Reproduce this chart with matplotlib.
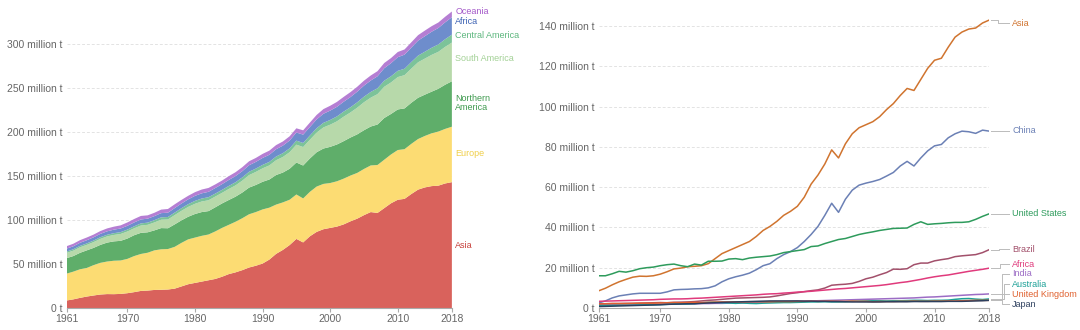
import numpy as np
import matplotlib
matplotlib.use('Agg')
from matplotlib import pyplot as plt

plt.rcParams['font.family'] = ['Liberation Sans', 'DejaVu Sans']

years = np.arange(1961, 2019)

# million tonnes
asia = [8.5, 9.8, 11.5, 13.0, 14.2, 15.3, 15.8, 15.7, 16.0, 16.8,
        18.0, 19.4, 19.8, 20.5, 20.7, 21.0, 22.0, 24.5, 27.0, 28.5,
        30.0, 31.5, 33.0, 35.5, 38.5, 40.5, 43.0, 46.0, 48.0, 50.5,
        55.0, 61.5, 66.0, 71.5, 78.5, 74.5, 81.5, 86.5, 89.5, 91.0,
        92.5, 95.0, 98.5, 101.5, 105.5, 109.0, 108.0, 113.5, 119.0, 123.0,
        124.0, 129.5, 134.5, 137.0, 138.5, 139.0, 141.5, 143.0]
europe = [30.5, 31.5, 32.5, 32.5, 34.5, 36.0, 37.0, 38.0, 38.0, 39.0,
          41.0, 42.0, 43.0, 45.0, 46.0, 46.0, 47.5, 49.5, 51.0, 51.5,
          52.0, 52.0, 54.0, 55.5, 56.0, 57.5, 59.0, 60.5, 61.0, 61.5,
          59.0, 56.0, 54.0, 51.5, 50.5, 50.0, 50.5, 51.5, 51.5, 51.0,
          51.5, 52.0, 52.0, 52.0, 52.5, 53.0, 54.5, 55.0, 55.5, 56.5,
          56.5, 57.0, 57.5, 58.5, 60.0, 61.5, 62.0, 63.0]
north_america = [17.6, 17.7, 18.7, 20.0, 19.6, 20.4, 21.5, 22.0, 22.3, 23.1,
                 23.7, 24.0, 23.2, 22.7, 24.1, 23.6, 25.5, 25.6, 25.7, 26.8,
                 27.0, 26.6, 27.4, 27.8, 28.2, 28.5, 29.2, 30.3, 30.8, 31.4,
                 32.0, 33.6, 33.9, 35.2, 36.3, 37.4, 37.9, 39.0, 40.2, 41.1,
                 41.8, 42.6, 43.2, 43.8, 44.0, 44.2, 46.0, 47.4, 46.0, 46.1,
                 46.3, 46.7, 46.9, 46.9, 47.3, 48.6, 50.2, 51.6]
south_america = [6.0, 6.1, 6.3, 6.2, 6.5, 6.8, 7.0, 7.3, 7.8, 8.0,
                 7.8, 8.3, 8.5, 9.0, 9.5, 10.0, 10.5, 10.8, 11.2, 11.6,
                 12.0, 12.3, 12.2, 12.0, 12.5, 12.8, 13.5, 14.2, 14.8, 15.3,
                 16.0, 16.8, 17.7, 18.8, 20.3, 21.0, 21.3, 22.3, 24.0, 25.2,
                 26.3, 27.8, 28.5, 30.3, 31.8, 32.8, 34.5, 35.5, 35.8, 36.8,
                 37.8, 38.8, 40.3, 41.0, 41.8, 42.0, 43.0, 44.0]
central_america = [1.5, 1.6, 1.6, 1.7, 1.8, 1.9, 1.9, 2.0, 2.1, 2.2,
                   2.3, 2.4, 2.5, 2.6, 2.7, 2.8, 2.9, 3.0, 3.1, 3.3,
                   3.4, 3.5, 3.4, 3.4, 3.5, 3.6, 3.7, 3.8, 3.8, 3.9,
                   4.0, 4.2, 4.3, 4.4, 4.6, 4.6, 4.8, 5.0, 5.2, 5.4,
                   5.6, 5.8, 5.9, 6.1, 6.3, 6.5, 6.7, 6.9, 7.0, 7.1,
                   7.3, 7.5, 7.6, 7.8, 8.1, 8.4, 8.7, 9.0]
africa = [3.3, 3.4, 3.5, 3.6, 3.7, 3.8, 3.9, 4.0, 4.1, 4.3,
          4.4, 4.5, 4.5, 4.6, 4.8, 4.9, 5.1, 5.3, 5.5, 5.7,
          5.9, 6.1, 6.3, 6.5, 6.8, 7.0, 7.1, 7.4, 7.6, 7.9,
          8.1, 8.3, 8.6, 8.9, 9.2, 9.5, 9.7, 10.0, 10.3, 10.6,
          10.9, 11.2, 11.6, 12.1, 12.6, 13.0, 13.6, 14.2, 14.9, 15.5,
          16.0, 16.4, 17.0, 17.6, 18.2, 18.7, 19.2, 19.8]
oceania = [2.8, 2.9, 3.0, 3.1, 3.1, 3.2, 3.3, 3.4, 3.6, 3.8,
           3.9, 4.0, 3.8, 3.8, 4.0, 4.2, 4.3, 4.1, 4.0, 4.2,
           4.3, 4.4, 4.1, 4.1, 4.3, 4.4, 4.5, 4.5, 4.5, 4.6,
           4.7, 4.7, 4.7, 4.8, 4.8, 4.9, 5.0, 5.1, 5.3, 5.5,
           5.6, 5.5, 5.6, 5.6, 5.6, 5.7, 5.8, 5.9, 5.8, 5.9,
           5.9, 6.0, 6.2, 6.4, 6.3, 6.2, 6.3, 6.5]

china = [2.5, 3.5, 5.0, 6.0, 6.5, 7.0, 7.3, 7.3, 7.3, 7.3,
         8.0, 9.0, 9.2, 9.3, 9.5, 9.6, 10.0, 11.0, 13.0, 14.5,
         15.5, 16.3, 17.3, 19.0, 21.0, 22.0, 24.5, 26.5, 28.0, 30.0,
         33.0, 36.5, 40.5, 46.0, 52.0, 47.5, 54.0, 58.5, 61.0, 62.0,
         62.8, 63.8, 65.5, 67.3, 70.5, 72.8, 70.5, 74.5, 78.0, 80.5,
         81.2, 84.5, 86.5, 87.8, 87.5, 86.7, 88.3, 87.8]
united_states = [16.0, 16.0, 17.0, 18.2, 17.8, 18.5, 19.5, 20.0, 20.3, 21.0,
                 21.5, 21.8, 21.0, 20.5, 21.8, 21.3, 23.2, 23.2, 23.3, 24.3,
                 24.5, 24.0, 24.8, 25.2, 25.5, 25.8, 26.5, 27.5, 28.0, 28.5,
                 29.0, 30.5, 30.8, 32.0, 33.0, 34.0, 34.5, 35.5, 36.5, 37.2,
                 37.8, 38.5, 39.0, 39.5, 39.6, 39.7, 41.5, 42.8, 41.5, 41.8,
                 42.0, 42.3, 42.5, 42.5, 42.8, 44.0, 45.5, 46.8]
brazil = [2.0, 2.1, 2.2, 2.2, 2.3, 2.3, 2.4, 2.5, 2.6, 2.7,
          2.6, 2.8, 2.9, 3.0, 3.2, 3.5, 3.8, 4.0, 4.3, 4.6,
          4.9, 5.0, 5.1, 5.2, 5.3, 5.5, 6.0, 6.6, 7.2, 7.6,
          8.1, 8.6, 9.0, 9.9, 11.3, 11.6, 11.8, 12.2, 13.2, 14.5,
          15.3, 16.5, 17.6, 19.3, 19.2, 19.5, 21.5, 22.3, 22.3, 23.4,
          24.0, 24.5, 25.5, 25.9, 26.2, 26.5, 27.5, 29.0]
india = [1.5, 1.5, 1.6, 1.6, 1.7, 1.7, 1.7, 1.8, 1.8, 1.9,
         1.9, 2.0, 2.0, 2.1, 2.1, 2.2, 2.2, 2.3, 2.3, 2.4,
         2.5, 2.5, 2.6, 2.7, 2.8, 2.9, 3.0, 3.1, 3.2, 3.3,
         3.4, 3.5, 3.6, 3.7, 3.8, 3.9, 4.0, 4.1, 4.2, 4.3,
         4.4, 4.5, 4.6, 4.7, 4.8, 4.9, 5.0, 5.2, 5.4, 5.5,
         5.7, 5.9, 6.1, 6.3, 6.5, 6.7, 6.8, 7.0]
australia = [1.2, 1.3, 1.3, 1.4, 1.4, 1.4, 1.5, 1.6, 1.6, 1.7,
             1.8, 2.0, 2.0, 2.0, 2.2, 2.5, 2.8, 2.9, 2.6, 2.5,
             2.3, 2.5, 2.3, 2.2, 2.4, 2.5, 2.6, 2.7, 2.7, 2.8,
             2.9, 3.0, 3.0, 3.1, 3.0, 3.0, 3.1, 3.3, 3.4, 3.5,
             3.6, 3.6, 3.5, 3.6, 3.6, 3.7, 3.8, 3.8, 3.7, 3.8,
             3.8, 3.9, 4.3, 4.6, 4.7, 4.4, 4.2, 4.5]
united_kingdom = [2.0, 2.1, 2.2, 2.2, 2.2, 2.3, 2.4, 2.4, 2.4, 2.5,
                  2.6, 2.7, 2.6, 2.7, 2.8, 2.7, 2.8, 2.9, 3.0, 3.0,
                  3.0, 3.0, 3.1, 3.1, 3.1, 3.1, 3.2, 3.2, 3.2, 3.3,
                  3.3, 3.4, 3.3, 3.4, 3.4, 3.3, 3.3, 3.4, 3.3, 3.3,
                  3.1, 3.2, 3.2, 3.2, 3.3, 3.3, 3.4, 3.3, 3.3, 3.4,
                  3.4, 3.5, 3.5, 3.6, 3.7, 3.8, 3.8, 3.8]
japan = [0.7, 0.8, 0.9, 1.0, 1.1, 1.2, 1.3, 1.4, 1.5, 1.6,
         1.8, 1.9, 2.0, 2.1, 2.1, 2.3, 2.5, 2.6, 2.8, 2.9,
         3.0, 3.1, 3.2, 3.3, 3.4, 3.5, 3.5, 3.5, 3.5, 3.5,
         3.4, 3.4, 3.3, 3.3, 3.2, 3.2, 3.1, 3.0, 3.0, 3.0,
         3.0, 3.0, 3.1, 3.1, 3.1, 3.1, 3.2, 3.2, 3.2, 3.2,
         3.2, 3.3, 3.3, 3.3, 3.4, 3.5, 3.6, 3.8]

regions = ['Asia', 'Europe', 'Northern\nAmerica', 'South America',
           'Central America', 'Africa', 'Oceania']
region_values = [asia, europe, north_america, south_america,
                 central_america, africa, oceania]
region_fill = ['#d9625c', '#fcdc73', '#5fae6a', '#b7d9aa', '#7cc399', '#6e8dcc', '#b57ed3']
region_text = ['#c7403b', '#f0cf4a', '#3f9a4f', '#a3d196', '#5cb67d', '#3c62b3', '#a459c9']
region_label_y = [71, 175, 233, 283, 310, 325, 337]

countries = ['Asia', 'China', 'United States', 'Brazil', 'Africa', 'India',
             'Australia', 'United Kingdom', 'Japan']
country_values = [asia, china, united_states, brazil, africa, india,
                  australia, united_kingdom, japan]
country_color = ['#d0742f', '#6b80b5', '#2e9b5c', '#a2506b', '#e03a7c', '#9c6cc5',
                 '#1ea198', '#e0612f', '#2d3f5e']
country_label_y = [141.4, 88, 46.7, 29.1, 21.8, 16.9, 11.9, 6.8, 1.8]
elbow_x = [2019.3, 2019.4, 2019.4, 2019.4, 2019.5, 2019.9, 2020.2, 2019.9, 2019.9]

xticks = [1961, 1970, 1980, 1990, 2000, 2010, 2018]
grey = '#666666'


def style_axis(ax, yticks, ylabels, ymax):
    ax.set_xlim(1961, 2018)
    ax.set_ylim(0, ymax)
    ax.set_yticks(yticks)
    ax.set_yticklabels(ylabels)
    ax.set_xticks(xticks)
    ax.grid(axis='y', color='#e3e3e3', linestyle=(0, (3, 2)), lw=0.7)
    ax.set_axisbelow(True)
    for s in ['top', 'right', 'left']:
        ax.spines[s].set_visible(False)
    ax.spines['bottom'].set_color('#aaaaaa')
    ax.spines['bottom'].set_linewidth(0.8)
    ax.tick_params(axis='y', length=0, labelsize=7.5, labelcolor=grey, pad=3)
    ax.tick_params(axis='x', length=3, color='#aaaaaa', labelsize=7.5,
                   labelcolor=grey, pad=1.5)


fig = plt.figure(figsize=(10.8, 3.3), dpi=100)

# left: stacked areas by region
ax1 = fig.add_axes([0.0616, 0.0667, 0.3568, 0.92])
ax1.stackplot(years, *region_values, colors=region_fill, lw=0)
style_axis(ax1, [0, 50, 100, 150, 200, 250, 300],
           ['0 t'] + ['%d million t' % v for v in [50, 100, 150, 200, 250, 300]], 345)
for name, c, yv in zip(regions, region_text, region_label_y):
    ax1.text(2018.5, yv, name, color=c, fontsize=6.5, va='center', ha='left',
             linespacing=1.1, clip_on=False)

# right: lines by country / region
ax2 = fig.add_axes([0.5542, 0.0667, 0.3619, 0.9155])
for name, vals, c, ly, ex in zip(countries, country_values, country_color,
                                 country_label_y, elbow_x):
    ax2.plot(years, vals, color=c, lw=1.1)
    ax2.plot([2018.2, ex, ex, 2020.8], [vals[-1], vals[-1], ly, ly],
             color='#bbbbbb', lw=0.7, clip_on=False)
    ax2.text(2021.3, ly, name, color=c, fontsize=6.5, va='center', ha='left',
             clip_on=False)
style_axis(ax2, [0, 20, 40, 60, 80, 100, 120, 140],
           ['0 t'] + ['%d million t' % v for v in [20, 40, 60, 80, 100, 120, 140]], 150)

fig.savefig('out.png', dpi=100)
